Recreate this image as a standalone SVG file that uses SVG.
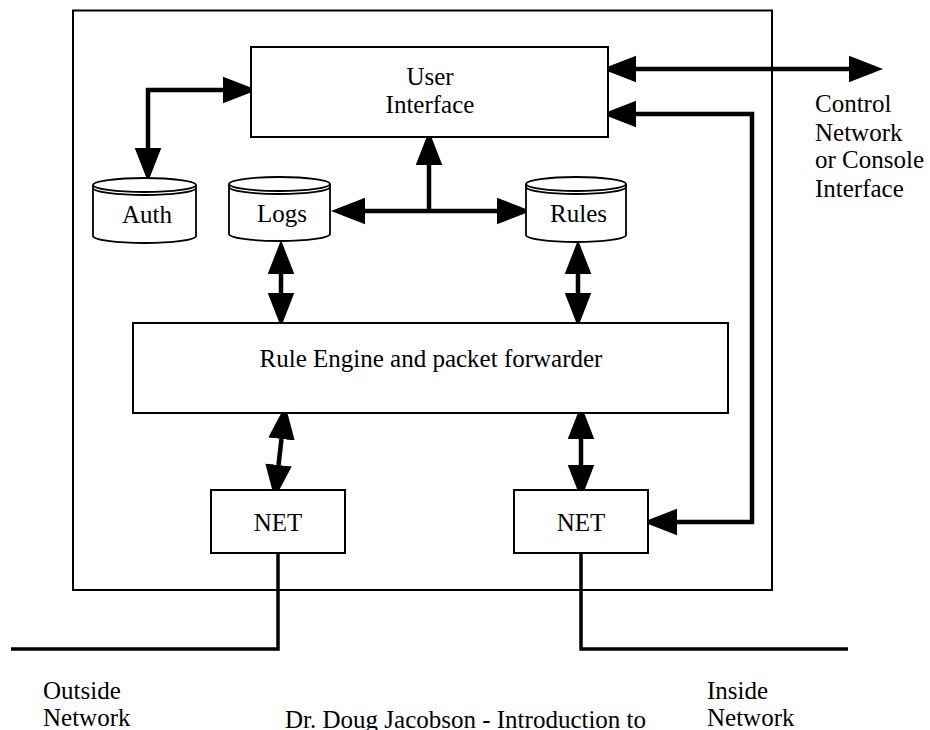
<svg xmlns="http://www.w3.org/2000/svg" width="930" height="730" viewBox="0 0 930 730" font-family="'Liberation Serif', 'Times New Roman', Times, 'DejaVu Serif', serif">
<style>
.box{fill:#fff;stroke:#000;stroke-width:2}
.frame{fill:none;stroke:#000;stroke-width:2}
.cyl{fill:#fff;stroke:#000;stroke-width:1.8}
.cl{fill:none;stroke:#000;stroke-width:1.8}
.con{fill:none;stroke:#000;stroke-width:4.5;marker-start:url(#ah);marker-end:url(#ah)}
.one{fill:none;stroke:#000;stroke-width:4.5;marker-end:url(#ah)}
.wire{fill:none;stroke:#000;stroke-width:3.5}
text{font-family:'Liberation Serif','Times New Roman',Times,'DejaVu Serif',serif;font-size:25px;fill:#000}
.c{text-anchor:middle}
</style>
<defs>
<marker id="ah" markerUnits="userSpaceOnUse" markerWidth="34" markerHeight="28" viewBox="0 -13 32 26" refX="0" refY="0" orient="auto-start-reverse">
<path d="M0,-12.5 L32,0 L0,12.5 Z" fill="#000"/>
</marker>
</defs>
<rect class="frame" x="73" y="10.5" width="699" height="579.5"/>
<g id="connectors">
<path class="con" d="M223,90 H148 V148"/>
<path class="con" d="M365,211 H497"/>
<path class="one" d="M429,211 V165"/>
<path class="con" d="M281,274 V293"/>
<path class="con" d="M578,274 V293"/>
<path class="con" d="M281.5,439 L278.5,465"/>
<path class="con" d="M581,439 V465"/>
<path class="con" d="M636,69 H849"/>
<path class="con" d="M636,114 H752 V522 H677"/>
<path class="wire" d="M278,553 V649 H11"/>
<path class="wire" d="M581,553 V649 H848"/>
</g>
<g id="ui">
<rect class="box" x="251" y="47" width="357" height="90"/>
<text class="c" x="430" y="85">User</text>
<text class="c" x="430" y="113">Interface</text>
</g>
<g id="auth">
<path class="cyl" d="M93,185 A51.5,7 0 0 1 196,185 V236 A51.5,7 0 0 1 93,236 Z"/>
<path class="cl" d="M93,185 A51.5,7 0 0 0 196,185 M93,188 A51.5,7 0 0 0 196,188"/>
<text class="c" x="147" y="223">Auth</text>
</g>
<g id="logs">
<path class="cyl" d="M229,184 A50.5,7 0 0 1 330,184 V234 A50.5,7 0 0 1 229,234 Z"/>
<path class="cl" d="M229,184 A50.5,7 0 0 0 330,184 M229,187 A50.5,7 0 0 0 330,187"/>
<text class="c" x="282" y="222">Logs</text>
</g>
<g id="rules">
<path class="cyl" d="M526,184 A50,7 0 0 1 626,184 V235 A50,7 0 0 1 526,235 Z"/>
<path class="cl" d="M526,184 A50,7 0 0 0 626,184 M526,187 A50,7 0 0 0 626,187"/>
<text class="c" x="578.5" y="222">Rules</text>
</g>
<g id="engine">
<rect class="box" x="133" y="323" width="595" height="90"/>
<text class="c" x="431" y="367">Rule Engine and packet forwarder</text>
</g>
<g id="net-outside">
<rect class="box" x="211" y="490" width="134" height="63"/>
<text class="c" x="278" y="531">NET</text>
</g>
<g id="net-inside">
<rect class="box" x="514" y="490" width="134" height="63"/>
<text class="c" x="581" y="531">NET</text>
</g>
<g id="labels">
<text x="815" y="112">Control</text>
<text x="815" y="141">Network</text>
<text x="815" y="168">or Console</text>
<text x="815" y="197">Interface</text>
<text x="43" y="699">Outside</text>
<text x="43" y="726">Network</text>
<text x="707" y="699">Inside</text>
<text x="707" y="726">Network</text>
<text x="285" y="728">Dr. Doug Jacobson - Introduction to</text>
</g>
</svg>
